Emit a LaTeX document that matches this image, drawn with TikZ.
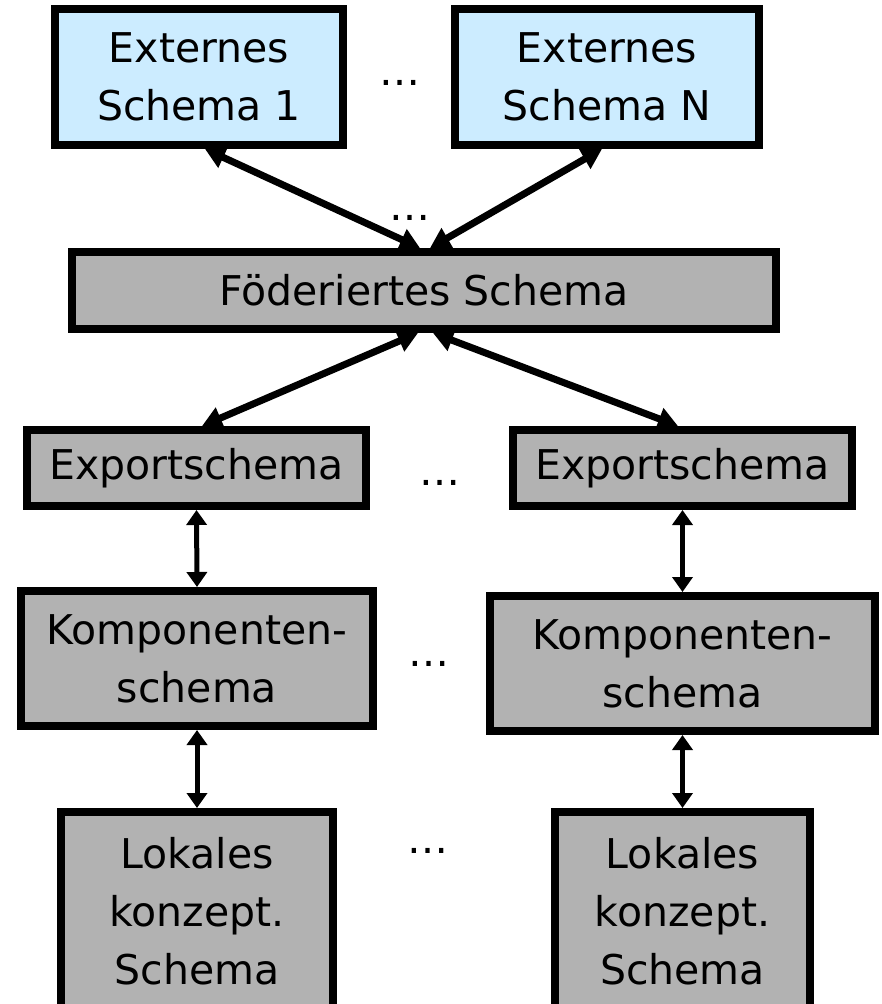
\documentclass[tikz,border=0pt]{standalone}
\usepackage{fontspec}
\setmainfont{DejaVu Sans}
\usetikzlibrary{arrows.meta}
\definecolor{extblue}{HTML}{CCECFF}
\definecolor{boxgrey}{HTML}{B2B2B2}
\begin{document}
\begin{tikzpicture}[x=1pt,y=-1pt,
  schemabox/.style={draw=black, line width=8pt, inner sep=0pt, align=center,
                    font=\fontsize{41}{58}\selectfont},
  extbox/.style={schemabox, fill=extblue},
  greybox/.style={schemabox, fill=boxgrey},
  bigarrow/.style={line width=7pt,
                   {Triangle[length=20pt,width=22pt]}-{Triangle[length=20pt,width=22pt]}},
  smallarrow/.style={line width=5pt,
                     {Triangle[length=15pt,width=20pt]}-{Triangle[length=15pt,width=20pt]}},
  ellipsis/.style={font=\fontsize{41}{58}\selectfont, inner sep=0pt, anchor=base}]
\useasboundingbox (0,0) rectangle (881,1004);
\clip (0,0) rectangle (881,1004);

% external schemas
\node[extbox, minimum width=288pt, minimum height=136pt] (ext1) at (199,77) {Externes\\Schema 1};
\node[extbox, minimum width=304pt, minimum height=136pt] (extN) at (607,77) {Externes\\Schema N};

% federated schema
\node[greybox, minimum width=704pt, minimum height=77pt] (fed) at (424,290.5) {Föderiertes Schema};

% export schemas
\node[greybox, minimum width=339pt, minimum height=76pt] (expL) at (196.5,468) {Exportschema};
\node[greybox, minimum width=339pt, minimum height=76pt] (expR) at (682.5,468) {Exportschema};

% component schemas
\node[greybox, minimum width=352pt, minimum height=135pt] (kompL) at (197,658.5) {Komponenten-\\schema};
\node[greybox, minimum width=385pt, minimum height=135pt] (kompR) at (682.5,663.5) {Komponenten-\\schema};

% local conceptual schemas
\node[greybox, minimum width=272pt, minimum height=199pt] (lokL) at (197,911.5) {Lokales\\konzept.\\Schema};
\node[greybox, minimum width=255pt, minimum height=199pt] (lokR) at (682.5,911.5) {Lokales\\konzept.\\Schema};

% ellipses
\node[ellipsis] (d1) at (400,85) {…};
\node[ellipsis] (d2) at (410,220) {…};
\node[ellipsis] (d3) at (440,485) {…};
\node[ellipsis] (d4) at (429,666) {…};
\node[ellipsis] (d5) at (428,853) {…};

% connectors (anchors already lie on the outer edge of the borders)
\draw[bigarrow] ([xshift=6pt]ext1.south) -- ([xshift=-4pt]fed.north);
\draw[bigarrow] ([xshift=-5pt]extN.south) -- ([xshift=6pt]fed.north);
\draw[bigarrow] ([xshift=-6pt]fed.south) -- ([xshift=5.5pt]expL.north);
\draw[bigarrow] ([xshift=9pt]fed.south) -- ([xshift=-4.5pt]expR.north);
\draw[smallarrow] (expL.south) -- (kompL.north);
\draw[smallarrow] (expR.south) -- (kompR.north);
\draw[smallarrow] (kompL.south) -- (lokL.north);
\draw[smallarrow] (kompR.south) -- (lokR.north);
\end{tikzpicture}
\end{document}
